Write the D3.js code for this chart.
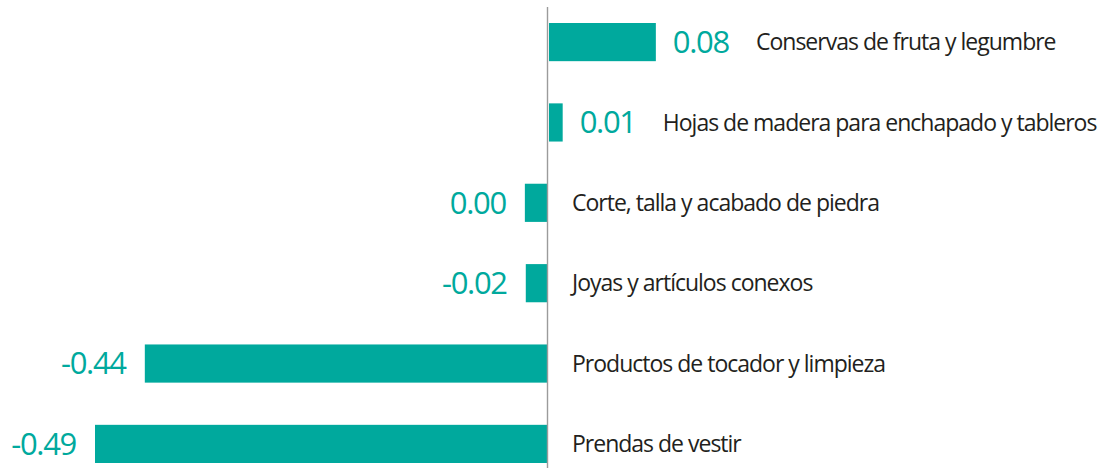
<!DOCTYPE html>
<meta charset="utf-8">
<style>
  body { margin: 0; background: #fff; }
  .bar { fill: #00a99d; }
  .value { fill: #00a99d; font-family: "Open Sans", sans-serif; font-size: 31px; letter-spacing: -1.3px; }
  .name { fill: #231f20; font-family: "Open Sans", sans-serif; font-size: 23px; letter-spacing: -1px; }
</style>
<body>
<script src="https://d3js.org/d3.v7.min.js"></script>
<script>
  // categories, top to bottom
  const categories = [
    "Conservas de fruta y legumbre",
    "Hojas de madera para enchapado y tableros",
    "Corte, talla y acabado de piedra",
    "Joyas y artículos conexos",
    "Productos de tocador y limpieza",
    "Prendas de vestir"
  ];
  // bar lengths as drawn in the picture
  const barValues = [0.118, 0.017, -0.024, -0.023, -0.436, -0.49];
  // printed value labels
  const valueLabels = ["0.08", "0.01", "0.00", "-0.02", "-0.44", "-0.49"];

  const width = 1110, height = 468;

  const svg = d3.select("body").append("svg")
      .attr("width", width)
      .attr("height", height);

  const x = d3.scaleLinear().domain([-0.49, 0]).range([95, 547]);
  const y = d3.scaleBand().domain(categories).range([23, 463]).paddingInner(0.525);

  const rows = categories.map((c, i) => ({ name: c, v: barValues[i], label: valueLabels[i] }));

  // bars
  svg.selectAll(".bar")
    .data(rows).enter()
    .append("rect")
      .attr("class", "bar")
      .attr("x", d => d.v < 0 ? x(d.v) : x(0) + 2)
      .attr("y", d => y(d.name))
      .attr("width", d => d.v < 0 ? x(0) - x(d.v) : x(d.v) - x(0) - 2)
      .attr("height", y.bandwidth());

  // zero line
  svg.append("line")
      .attr("x1", x(0) + 0.5).attr("x2", x(0) + 0.5)
      .attr("y1", 7).attr("y2", height)
      .attr("stroke", "#9b9b9b")
      .attr("stroke-width", 1.4);

  const g = svg.selectAll(".row")
    .data(rows).enter()
    .append("g")
      .attr("transform", d => "translate(0," + (y(d.name) + y.bandwidth() / 2) + ")");

  // value labels
  const vals = g.append("text")
      .attr("class", "value")
      .attr("dy", "0.35em")
      .attr("x", d => d.v < 0 ? x(d.v) - 19 : x(d.v) + 17)
      .attr("text-anchor", d => d.v < 0 ? "end" : "start")
      .text(d => d.label);

  // category labels
  g.append("text")
      .attr("class", "name")
      .attr("dy", "0.35em")
      .attr("x", function(d, i) {
        if (d.v < 0) return x(0) + 25;
        const t = vals.nodes()[i];
        return x(d.v) + 17 + t.getComputedTextLength() + 27;
      })
      .text(d => d.name);
</script>
</body>
